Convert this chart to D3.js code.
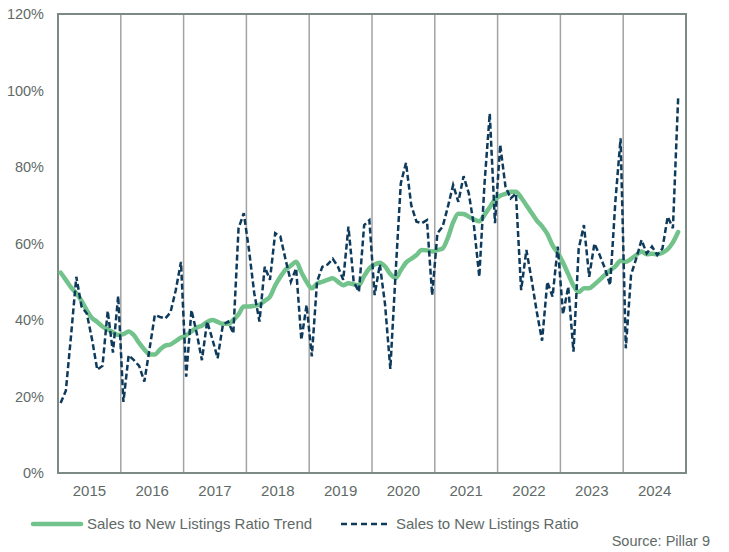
<!DOCTYPE html>
<html>
<head>
<meta charset="utf-8">
<script src="https://cdn.jsdelivr.net/npm/d3@7"></script>
<style>
    body { margin: 0; background: #ffffff; }
    text { font-family: "Liberation Sans", Arial, sans-serif; fill: #5f6a67; }
</style>
</head>
<body>
<div id="chart"></div>
<script>
const years = [2015, 2016, 2017, 2018, 2019, 2020, 2021, 2022, 2023, 2024];
const yTicks = [0, 0.2, 0.4, 0.6, 0.8, 1.0, 1.2];

// monthly, Jan 2015 - Nov 2024 (percent)
const ratio = [
    18.3, 21.5, 36, 51.3, 43.5, 41.7, 35, 27, 28, 42.4, 31.5, 46.3,
    18.6, 30.8, 29.5, 28, 23.9, 32.5, 41.3, 40.8, 40.4, 42, 47.8, 55.2,
    25.2, 42.6, 36.6, 29.5, 39.6, 35, 30, 38.7, 39.6, 36.5, 64, 67.9,
    58.3, 47, 39.6, 53.9, 50.5, 62.7, 61.8, 55.7, 50, 53.5, 34.8, 43.9,
    30.5, 50, 53.9, 54.5, 56, 53.9, 50.5, 64.4, 50, 47.4, 64.8, 66.1,
    46.5, 54.5, 44, 27.2, 52, 75.7, 81.1, 70, 65.7, 65.3, 66.1, 46.5,
    62.7, 64.4, 69.6, 75.3, 70.9, 77.6, 73.1, 64.4, 51.3, 75.7, 94, 65.3,
    85.8, 74.9, 71.8, 73.1, 47.8, 58.3, 50.5, 42, 34.6, 50, 46.1, 59.2,
    41.5, 48.7, 31.7, 58.7, 64.8, 51.3, 60, 57, 53.5, 49.1, 70.9, 87.5,
    32.6, 51.8, 56.1, 60.9, 57.4, 59.2, 57, 58.7, 67, 64, 98
];

const trend = [
    52.4, 50.5, 48.5, 47, 45, 42.5, 40.5, 39.5, 38.3, 37.5, 36.8, 36.1,
    36.3, 37, 36, 34, 32.3, 31, 31, 32.3, 33.3, 33.6, 34.5, 35.4,
    36, 37, 38, 38.5, 39.5, 40, 39.5, 39, 39, 40, 41.5, 43.5,
    43.5, 43.7, 44, 45, 46.1, 49, 51.3, 53.2, 54.2, 55.2, 52.5, 50,
    48.3, 49.5, 50, 50.5, 50.9, 50, 49.1, 49.6, 49.3, 49.1, 51.5, 53.5,
    54.5, 55, 54, 52, 51, 53, 55, 56, 57, 58.3, 58.2, 57.9,
    58.3, 58.7, 61.5, 65.5, 67.8, 67.7, 67, 66.3, 65.8, 67.5, 69.5, 71.5,
    72.5, 73, 73.5, 73.5, 72, 70, 68, 66, 64.5, 62.5, 59.5, 57.5,
    55, 52, 49, 47.3, 48.3, 48.3, 49.3, 50.5, 51.8, 53, 54, 55.5,
    55.2, 56, 57, 57.9, 57.2, 57.3, 57.2, 57.6, 58.5, 60.3, 63
];

const seriesNames = ["Sales to New Listings Ratio Trend", "Sales to New Listings Ratio"];
const sourceText = "Source: Pillar 9";

const width = 729;
const height = 552;
const margin = { top: 14, right: 43, bottom: 79, left: 58 };
const green = "#72c38b";
const navy = "#0e3a5c";

const svg = d3.select("#chart")
    .append("svg")
    .attr("width", width)
    .attr("height", height);

const x = d3.scaleLinear()
    .domain([0, years.length * 12])
    .range([margin.left, width - margin.right]);

const xYears = d3.scaleBand()
    .domain(years)
    .range([margin.left, width - margin.right]);

const y = d3.scaleLinear()
    .domain([0, 1.2])
    .range([height - margin.bottom, margin.top]);

// year separators
svg.append("g")
    .selectAll("line")
    .data(years.slice(1))
    .enter().append("line")
    .attr("x1", (d, i) => x((i + 1) * 12))
    .attr("x2", (d, i) => x((i + 1) * 12))
    .attr("y1", y(1.2))
    .attr("y2", y(0))
    .attr("stroke", "#a3a3a3")
    .attr("stroke-width", 1.5);

// frame
svg.append("rect")
    .attr("x", x(0))
    .attr("y", y(1.2))
    .attr("width", x(years.length * 12) - x(0))
    .attr("height", y(0) - y(1.2))
    .attr("fill", "none")
    .attr("stroke", "#7b8a85")
    .attr("stroke-width", 2);

const yAxis = d3.axisLeft(y)
    .tickValues(yTicks)
    .tickSize(0)
    .tickPadding(14)
    .tickFormat(d3.format(".0%"));

svg.append("g")
    .attr("transform", `translate(${margin.left},0)`)
    .call(yAxis)
    .call(g => g.select(".domain").remove())
    .selectAll("text")
    .style("font-size", "14.5px")
    .style("font-family", "Liberation Sans, Arial, sans-serif")
    .attr("fill", "#5f6a67");

const xAxis = d3.axisBottom(xYears)
    .tickSize(0)
    .tickPadding(12);

svg.append("g")
    .attr("transform", `translate(0,${height - margin.bottom})`)
    .call(xAxis)
    .call(g => g.select(".domain").remove())
    .selectAll("text")
    .style("font-size", "15px")
    .style("font-family", "Liberation Sans, Arial, sans-serif")
    .attr("fill", "#5f6a67");

const line = d3.line()
    .x((d, i) => x(i + 0.5))
    .y(d => y(d / 100));

svg.append("path")
    .datum(trend)
    .attr("fill", "none")
    .attr("stroke", green)
    .attr("stroke-width", 4.5)
    .attr("stroke-linejoin", "round")
    .attr("stroke-linecap", "round")
    .attr("d", line.curve(d3.curveMonotoneX));

svg.append("path")
    .datum(ratio)
    .attr("fill", "none")
    .attr("stroke", navy)
    .attr("stroke-width", 2.5)
    .attr("stroke-dasharray", "6,3")
    .attr("d", line.curve(d3.curveLinear));

// legend
const legendY = 524;
const legend = svg.append("g");

legend.append("line")
    .attr("x1", 33).attr("x2", 81)
    .attr("y1", legendY).attr("y2", legendY)
    .attr("stroke", green)
    .attr("stroke-width", 4.5)
    .attr("stroke-linecap", "round");

legend.append("text")
    .attr("x", 87)
    .attr("y", legendY)
    .attr("dy", "0.35em")
    .style("font-size", "15px")
    .text(seriesNames[0]);

legend.append("line")
    .attr("x1", 341).attr("x2", 391)
    .attr("y1", legendY).attr("y2", legendY)
    .attr("stroke", navy)
    .attr("stroke-width", 2.5)
    .attr("stroke-dasharray", "6,4");

legend.append("text")
    .attr("x", 396)
    .attr("y", legendY)
    .attr("dy", "0.35em")
    .style("font-size", "15px")
    .text(seriesNames[1]);

svg.append("text")
    .attr("x", 710)
    .attr("y", 541)
    .attr("dy", "0.35em")
    .attr("text-anchor", "end")
    .style("font-size", "14.5px")
    .text(sourceText);
</script>
</body>
</html>
